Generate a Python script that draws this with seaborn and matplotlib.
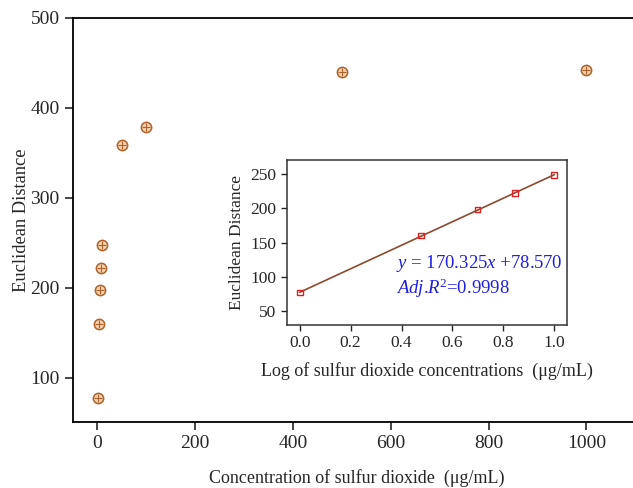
import numpy as np
import pandas as pd
import matplotlib
matplotlib.use("Agg")
import matplotlib.pyplot as plt
import seaborn as sns

# Main plot data
concentration = [1, 3, 5, 7, 10, 50, 100, 500, 1000]
distance = [78, 160, 198, 222, 248, 359, 379, 440, 442]

# Inset data (log scale fit)
log_conc = [0.0, 0.477, 0.699, 0.845, 1.0]
log_distance = [77, 160, 198, 222, 248]

equation_text = r"$y$ = 170.325$x$ +78.570"
r2_text = r"$Adj$.$R$$^2$=0.9998"

sns.set_style("ticks")
plt.rcParams['font.family'] = ['Liberation Serif', 'DejaVu Serif']
plt.rcParams['mathtext.fontset'] = 'custom'
plt.rcParams['mathtext.rm'] = 'Liberation Serif'
plt.rcParams['mathtext.it'] = 'Liberation Serif:italic'

fig = plt.figure(figsize=(6.33, 4.88), dpi=100)
ax = fig.add_axes([0.1153, 0.1352, 0.896, 0.828])

df = pd.DataFrame({"conc": concentration, "dist": distance})
sns.scatterplot(data=df, x="conc", y="dist", ax=ax, s=55, color="#f3d2b0",
                edgecolor="#b0622a", linewidth=1.1, marker="o", zorder=3)
sns.scatterplot(data=df, x="conc", y="dist", ax=ax, s=26, color="#b0622a",
                marker="+", linewidth=0.8, zorder=4)
ax.set_xlim(-50, 1110)
ax.set_ylim(51, 500)
ax.set_xticks([0, 200, 400, 600, 800, 1000])
ax.set_yticks([100, 200, 300, 400, 500])
ax.tick_params(labelsize=14, length=6, width=1.2, direction="out")
ax.set_xlabel("Concentration of sulfur dioxide  (\u03bcg/mL)", fontsize=13, labelpad=12)
ax.set_ylabel("Euclidean Distance", fontsize=13.3, labelpad=0)
for sp in ax.spines.values():
    sp.set_linewidth(1.3)
    sp.set_color("black")

# Inset
axin = fig.add_axes([0.4534, 0.334, 0.4423, 0.338])
dfi = pd.DataFrame({"logc": log_conc, "dist": log_distance})
sns.regplot(data=dfi, x="logc", y="dist", ax=axin, ci=None, scatter=False,
            line_kws={"color": "#8b4a2e", "linewidth": 1.2})
sns.scatterplot(data=dfi, x="logc", y="dist", ax=axin, marker="s", s=16,
                facecolor="none", edgecolor="#e02020", linewidth=1.0, zorder=3)
axin.set_xlim(-0.05, 1.05)
axin.set_ylim(30, 270)
axin.set_xticks([0.0, 0.2, 0.4, 0.6, 0.8, 1.0])
axin.set_yticks([50, 100, 150, 200, 250])
axin.set_xticklabels(["0.0", "0.2", "0.4", "0.6", "0.8", "1.0"])
axin.tick_params(labelsize=12.5, length=4, width=1.0, direction="out")
axin.set_xlabel("Log of sulfur dioxide concentrations  (\u03bcg/mL)", fontsize=13, labelpad=8)
axin.set_ylabel("Euclidean Distance", fontsize=12.5, labelpad=4)
for sp in axin.spines.values():
    sp.set_linewidth(1.1)
    sp.set_color("#333333")

axin.text(0.39, 0.375, equation_text, transform=axin.transAxes, fontsize=13.5,
          color="#2020e0", va="center")
axin.text(0.39, 0.225, r2_text, transform=axin.transAxes, fontsize=13.5,
          color="#2020e0", va="center")

fig.savefig("out.png", dpi=100)
